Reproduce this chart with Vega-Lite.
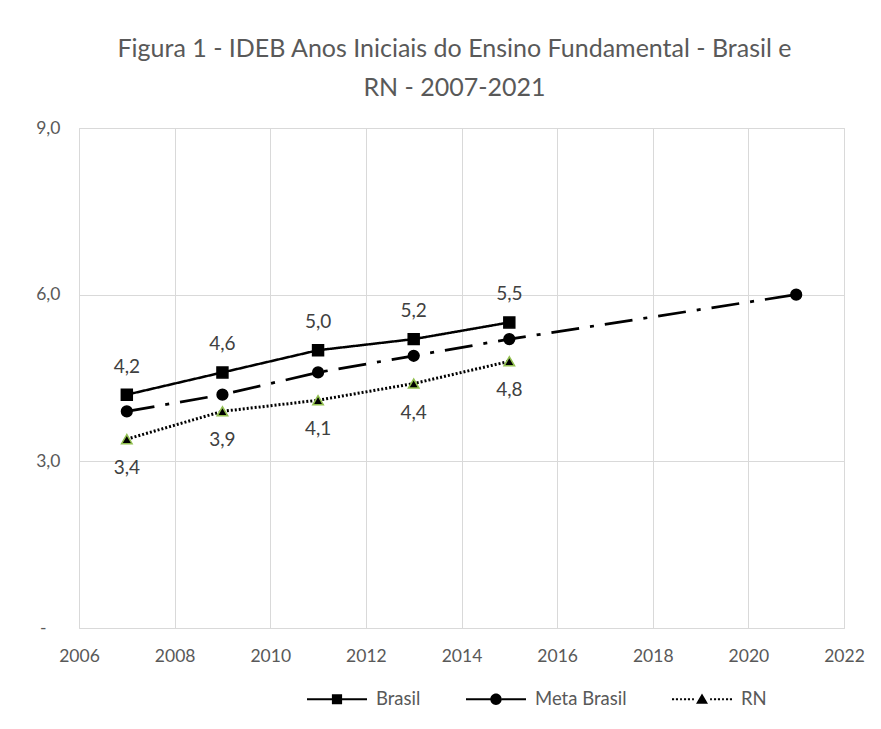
{
  "$schema": "https://vega.github.io/schema/vega-lite/v6.json",
  "width": 765,
  "height": 500,
  "autosize": {"type": "none"},
  "padding": {"left": 79, "top": 128, "right": 37, "bottom": 101},
  "background": "white",
  "config": {
    "locale": {"number": {"decimal": ",", "thousands": ".", "grouping": [3], "currency": ["R$", ""]}},
    "font": "Lato",
    "view": {"stroke": "#d9d9d9", "strokeWidth": 1}
  },
  "title": {
    "text": ["Figura 1 - IDEB Anos Iniciais do Ensino Fundamental - Brasil e", "RN - 2007-2021"],
    "fontSize": 25,
    "font": "Lato",
    "fontWeight": "normal",
    "color": "#595959",
    "anchor": "middle",
    "offset": 18,
    "dx": -7,
    "lineHeight": 39
  },
  "data": {
    "values": [
      {"year": 2007, "series": "Brasil", "value": 4.2},
      {"year": 2009, "series": "Brasil", "value": 4.6},
      {"year": 2011, "series": "Brasil", "value": 5.0},
      {"year": 2013, "series": "Brasil", "value": 5.2},
      {"year": 2015, "series": "Brasil", "value": 5.5},
      {"year": 2007, "series": "Meta Brasil", "value": 3.9},
      {"year": 2009, "series": "Meta Brasil", "value": 4.2},
      {"year": 2011, "series": "Meta Brasil", "value": 4.6},
      {"year": 2013, "series": "Meta Brasil", "value": 4.9},
      {"year": 2015, "series": "Meta Brasil", "value": 5.2},
      {"year": 2021, "series": "Meta Brasil", "value": 6.0},
      {"year": 2007, "series": "RN", "value": 3.4},
      {"year": 2009, "series": "RN", "value": 3.9},
      {"year": 2011, "series": "RN", "value": 4.1},
      {"year": 2013, "series": "RN", "value": 4.4},
      {"year": 2015, "series": "RN", "value": 4.8}
    ]
  },
  "encoding": {
    "x": {
      "field": "year",
      "type": "quantitative",
      "scale": {"domain": [2006, 2022], "nice": false, "zero": false},
      "axis": {
        "values": [2006, 2008, 2010, 2012, 2014, 2016, 2018, 2020, 2022],
        "format": "d",
        "title": null,
        "ticks": false,
        "domain": false,
        "labelPadding": 19,
        "labelFontSize": 17.5,
        "labelColor": "#595959",
        "labelFlush": false,
        "labelOverlap": false,
        "gridColor": "#d9d9d9",
        "gridWidth": 1
      }
    },
    "y": {
      "field": "value",
      "type": "quantitative",
      "scale": {"domain": [0, 9], "nice": false},
      "axis": {
        "values": [0, 3, 6, 9],
        "format": ".1f",
        "labelExpr": "datum.value == 0 ? '-' : datum.label",
        "title": null,
        "ticks": false,
        "domain": false,
        "labelPadding": {"condition": {"test": "datum.value == 0", "value": 33}, "value": 19},
        "labelFontSize": 17.5,
        "labelColor": "#595959",
        "gridColor": "#d9d9d9",
        "gridWidth": 1
      }
    }
  },
  "layer": [
    {
      "mark": {"type": "line", "color": "black", "strokeCap": "butt"},
      "encoding": {
        "order": {"field": "year", "type": "quantitative"},
        "strokeDash": {
          "field": "series",
          "type": "nominal",
          "scale": {"domain": ["Brasil", "Meta Brasil", "RN"], "range": [[1, 0], [28, 11, 4, 11], [2, 2]]},
          "legend": null
        },
        "strokeWidth": {
          "field": "series",
          "type": "nominal",
          "scale": {"domain": ["Brasil", "Meta Brasil", "RN"], "range": [2.5, 3, 2]},
          "legend": null
        }
      }
    },
    {
      "mark": {"type": "point", "filled": true, "opacity": 1, "strokeWidth": 1.5},
      "encoding": {
        "shape": {
          "field": "series",
          "type": "nominal",
          "scale": {"domain": ["Brasil", "Meta Brasil", "RN"], "range": ["square", "circle", "triangle-up"]},
          "legend": null
        },
        "fill": {"value": "black"},
        "stroke": {
          "field": "series",
          "type": "nominal",
          "scale": {"domain": ["Brasil", "Meta Brasil", "RN"], "range": ["black", "black", "#92c050"]},
          "legend": null
        },
        "size": {
          "field": "series",
          "type": "nominal",
          "scale": {"domain": ["Brasil", "Meta Brasil", "RN"], "range": [120, 110, 140]},
          "legend": null
        }
      }
    },
    {
      "transform": [{"filter": "datum.series == 'Brasil'"}],
      "mark": {"type": "text", "dy": -28, "fontSize": 19, "color": "#404040", "font": "Lato"},
      "encoding": {"text": {"field": "value", "type": "quantitative", "format": ".1f"}}
    },
    {
      "transform": [{"filter": "datum.series == 'RN'"}],
      "mark": {"type": "text", "dy": 29, "fontSize": 19, "color": "#404040", "font": "Lato"},
      "encoding": {"text": {"field": "value", "type": "quantitative", "format": ".1f"}}
    },
    {
      "mark": {"type": "point", "filled": true, "opacity": 0, "color": "black"},
      "encoding": {
        "shape": {
          "field": "series",
          "type": "nominal",
          "scale": {
            "domain": ["Brasil", "Meta Brasil", "RN"],
            "range": [
              "M-1,-0.035H-0.17V0.035H-1ZM0.17,-0.035H1V0.035H0.17ZM-0.17,-0.17H0.17V0.17H-0.17Z",
              "M-1,-0.035H-0.19V0.035H-1ZM0.19,-0.035H1V0.035H0.19ZM-0.19,0A0.19,0.19,0,1,1,0.19,0A0.19,0.19,0,1,1,-0.19,0Z",
              "M-1,-0.035H-0.93V0.035H-1ZM-0.87,-0.035H-0.8V0.035H-0.87ZM-0.73,-0.035H-0.67V0.035H-0.73ZM-0.6,-0.035H-0.53V0.035H-0.6ZM-0.47,-0.035H-0.4V0.035H-0.47ZM-0.33,-0.035H-0.27V0.035H-0.33ZM0.27,-0.035H0.33V0.035H0.27ZM0.4,-0.035H0.47V0.035H0.4ZM0.53,-0.035H0.6V0.035H0.53ZM0.67,-0.035H0.73V0.035H0.67ZM0.8,-0.035H0.87V0.035H0.8ZM0.93,-0.035H1V0.035H0.93ZM-0.2,0.15L0,-0.19L0.2,0.15Z"
            ]
          },
          "legend": {
            "orient": "none",
            "legendX": 227,
            "legendY": 540,
            "direction": "horizontal",
            "title": null,
            "symbolSize": 3600,
            "labelFontSize": 18.5,
            "labelFont": "Lato",
            "labelColor": "#595959",
            "labelOffset": 8,
            "columnPadding": 42,
            "symbolOpacity": 1,
            "symbolFillColor": "black",
            "encode": {
              "symbols": {
                "update": {
                  "opacity": {"value": 1},
                  "fillOpacity": {"value": 1},
                  "fill": {"value": "black"},
                  "size": {"value": 3600}
                }
              }
            }
          }
        }
      }
    }
  ],
  "resolve": {"scale": {"shape": "independent"}}
}
